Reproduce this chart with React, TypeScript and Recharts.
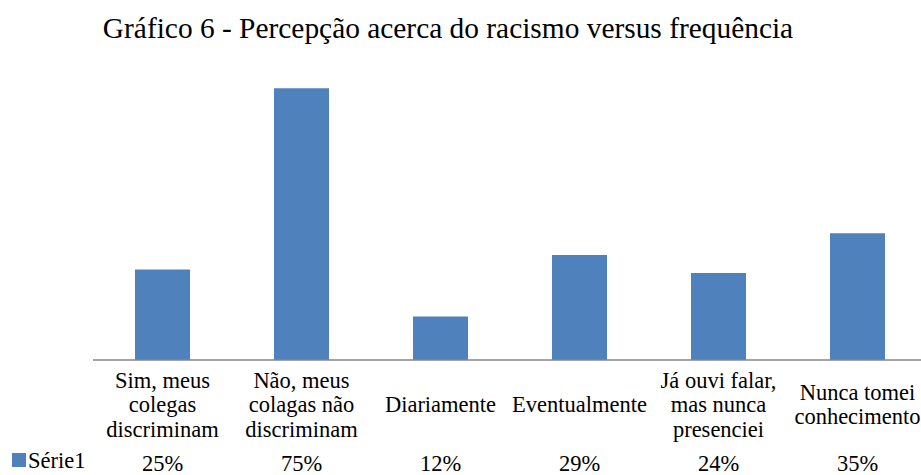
import React from "react";
import { BarChart, Bar, XAxis, YAxis } from "recharts";

const title = "Gráfico 6 - Percepção acerca do racismo versus frequência";
const seriesName = "Série1";
const categories = [
  "Sim, meus\ncolegas\ndiscriminam",
  "Não, meus\ncolagas não\ndiscriminam",
  "Diariamente",
  "Eventualmente",
  "Já ouvi falar,\nmas nunca\npresenciei",
  "Nunca tomei\nconhecimento",
];
const values = [25, 75, 12, 29, 24, 35];

const data = categories.map((name, i) => ({ name, value: values[i] }));

const FONT = '"Liberation Serif", "Times New Roman", serif';
const BLUE = "#4F81BD";
const LABEL_SIZE = 22.5;

// category label (multi-line, centred on y=405) plus the data-table value below it
function CategoryTick(props: any) {
  const { x, payload, index } = props;
  const lines = String(payload.value).split("\n");
  const lineH = 24.5;
  const first = 412 - ((lines.length - 1) * lineH) / 2;
  const i = payload.index ?? index;
  return (
    <g>
      <text textAnchor="middle" fontFamily={FONT} fontSize={LABEL_SIZE} fill="#000">
        {lines.map((l, k) => (
          <tspan key={k} x={x} y={first + k * lineH}>
            {l}
          </tspan>
        ))}
      </text>
      <text x={x} y={471} textAnchor="middle" fontFamily={FONT} fontSize={LABEL_SIZE} fill="#000">
        {values[i]}%
      </text>
    </g>
  );
}

export default function App() {
  return (
    <div
      style={{
        position: "absolute",
        left: 0,
        top: 0,
        width: 921,
        height: 475,
        overflow: "hidden",
        background: "#fff",
      }}
    >
      <div
        style={{
          position: "absolute",
          left: 0,
          top: 13,
          width: 896,
          textAlign: "center",
          fontFamily: FONT,
          fontSize: 29.4,
          lineHeight: "30px",
          color: "#000",
          whiteSpace: "nowrap",
        }}
      >
        {title}
      </div>
      <BarChart
        width={927}
        height={475}
        data={data}
        margin={{ top: 70, right: 0, left: 93, bottom: 85 }}
        barSize={55}
      >
        <XAxis
          dataKey="name"
          height={30}
          axisLine={{ stroke: "#868686", strokeWidth: 1.5 }}
          tickLine={false}
          interval={0}
          tick={<CategoryTick />}
        />
        <YAxis hide domain={[0, 80]} />
        <Bar dataKey="value" fill={BLUE} isAnimationActive={false} />
      </BarChart>
      <div
        style={{
          position: "absolute",
          left: 12,
          top: 453,
          width: 14,
          height: 14,
          background: BLUE,
        }}
      />
      <div
        style={{
          position: "absolute",
          left: 28,
          top: 446,
          fontFamily: FONT,
          fontSize: LABEL_SIZE,
          lineHeight: "30px",
          color: "#000",
          whiteSpace: "nowrap",
        }}
      >
        {seriesName}
      </div>
    </div>
  );
}
